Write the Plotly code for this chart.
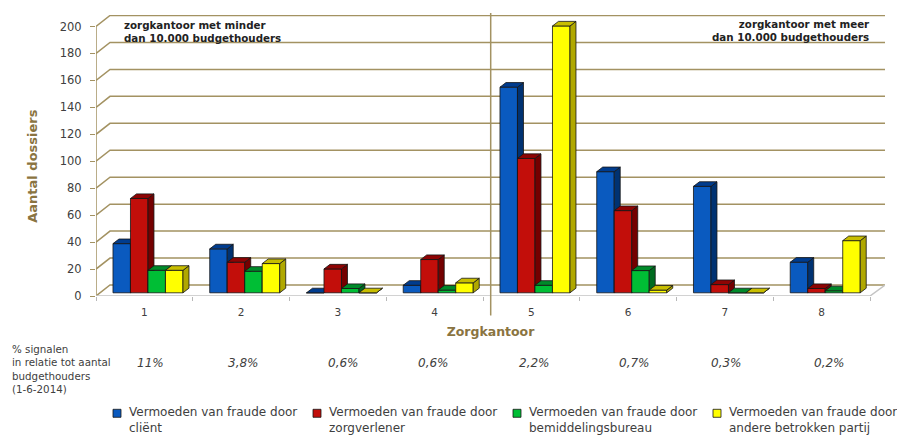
import plotly.graph_objects as go

categories = [1, 2, 3, 4, 5, 6, 7, 8]
client = [36.5, 32.6, 0, 5.6, 152.6, 89.9, 79, 22.7]
zorgverlener = [70, 22.7, 17.7, 24.7, 99.7, 61, 6.1, 3.2]
bemiddeling = [16.7, 16, 3.2, 2, 5.6, 16.5, 0, 1.5]
andere = [16.7, 21.7, 0, 7.4, 198, 2, 0, 38.7]
y_ticks = [0, 20, 40, 60, 80, 100, 120, 140, 160, 180, 200]
percent_labels = ["11%", "3,8%", "0,6%", "0,6%", "2,2%", "0,7%", "0,3%", "0,2%"]
percent_x_px = [150, 243, 343, 433, 534, 634, 726, 829]
series_names = [
    "Vermoeden van fraude door<br>cliënt",
    "Vermoeden van fraude door<br>zorgverlener",
    "Vermoeden van fraude door<br>bemiddelingsbureau",
    "Vermoeden van fraude door<br>andere betrokken partij",
]
series_values = [client, zorgverlener, bemiddeling, andere]
front_colors = ["#0A5ABF", "#C20E0A", "#00BE35", "#FFFF00"]
side_colors = ["#003272", "#740000", "#006B20", "#B0A800"]
top_colors = ["#003C8E", "#8E0404", "#008A2A", "#C8BE00"]
legend_x_px = [117, 317, 517, 717]

W, H = 897, 436
L, R, T, B = 96, 885, 15, 296.5
PX_X = 96.75            # pixels per category
PX_Y = 1.35             # pixels per unit
TAN = "#A39262"
TEXT = "#404040"
EDGE = "#151515"


def paper_x(px):
    return (px - L) / (R - L)


def paper_y(py):
    return (B - py) / (B - T)


x_range = [0.5, 0.5 + (R - L) / PX_X]
y_range = [0, (B - T) / PX_Y]
wall_dx, wall_dy = 14 / PX_X, 11 / PX_Y
bar_w = 17.5 / PX_X
bar_dx, bar_dy = 6 / PX_X, 4.6 / PX_Y
bar_base = 3.2 / PX_Y
group_start = -31.4 / PX_X

fig = go.Figure()

# back wall grid and floor, on the base axes beneath all bars
for v in y_ticks:
    fig.add_trace(go.Scatter(
        x=[0.5, 0.5 + wall_dx, x_range[1]],
        y=[v, v + wall_dy, v + wall_dy],
        mode="lines", line=dict(color=TAN, width=1.5),
        showlegend=False, hoverinfo="skip", cliponaxis=False))
fig.add_trace(go.Scatter(
    x=[0.5, 0.5], y=[0, 200], mode="lines", line=dict(color=TAN, width=1.5),
    showlegend=False, hoverinfo="skip", cliponaxis=False))
fig.add_trace(go.Scatter(
    x=[0.5, 8.5, x_range[1]], y=[0, 0, wall_dy], mode="lines",
    line=dict(color="#C4C4C4", width=1.5),
    showlegend=False, hoverinfo="skip", cliponaxis=False))

for i, (name, vals) in enumerate(zip(series_names, series_values)):
    xa, ya = f"x{i + 2}", f"y{i + 2}"
    off = group_start + i * bar_w
    fig.add_trace(go.Bar(
        x=categories, y=vals, base=bar_base, width=bar_w, offset=off, name=name,
        marker=dict(color=front_colors[i], line=dict(color=EDGE, width=0.8)),
        xaxis=xa, yaxis=ya, showlegend=False))
    sx, sy, tx, ty = [], [], [], []
    for c, v in zip(categories, vals):
        x0, x1 = c + off, c + off + bar_w
        y0, y1 = bar_base, bar_base + v
        sx += [x1, x1 + bar_dx, x1 + bar_dx, x1, x1, None]
        sy += [y0, y0 + bar_dy, y1 + bar_dy, y1, y0, None]
        tx += [x0, x0 + bar_dx, x1 + bar_dx, x1, x0, None]
        ty += [y1, y1 + bar_dy, y1 + bar_dy, y1, y1, None]
    for px_, py_, col in ((sx, sy, side_colors[i]), (tx, ty, top_colors[i])):
        fig.add_trace(go.Scatter(
            x=px_, y=py_, mode="lines", fill="toself", fillcolor=col,
            line=dict(color=EDGE, width=0.8), showlegend=False, hoverinfo="skip",
            xaxis=xa, yaxis=ya, cliponaxis=False))

annotations = [
    dict(text="zorgkantoor met minder<br>dan 10.000 budgethouders",
         x=paper_x(122), y=paper_y(17), xanchor="left", yanchor="top", align="left",
         font=dict(size=10.3, color="#222222", family="DejaVu Sans", weight="bold")),
    dict(text="zorgkantoor met meer<br>dan 10.000 budgethouders",
         x=paper_x(872), y=paper_y(16), xanchor="right", yanchor="top", align="right",
         font=dict(size=10.3, color="#222222", family="DejaVu Sans", weight="bold")),
    dict(text="Aantal dossiers", x=paper_x(33), y=paper_y(167), textangle=-90,
         xanchor="center", yanchor="middle",
         font=dict(size=13, color="#8A7441", family="DejaVu Sans", weight="bold")),
    dict(text="% signalen<br>in relatie tot aantal<br>budgethouders<br>(1-6-2014)",
         x=paper_x(10), y=paper_y(369.5), xanchor="left", yanchor="middle", align="left",
         font=dict(size=10.3, color=TEXT, family="DejaVu Sans")),
]
for lab, px in zip(percent_labels, percent_x_px):
    annotations.append(dict(
        text=f"<i>{lab}</i>", x=paper_x(px), y=paper_y(364),
        xanchor="center", yanchor="middle",
        font=dict(size=12, color=TEXT, family="DejaVu Sans")))
shapes = [dict(type="line", xref="paper", yref="paper",
               x0=paper_x(490.7), x1=paper_x(490.7), y0=paper_y(13), y1=paper_y(316),
               line=dict(color=TAN, width=1.5))]
# legend: swatch and two-line label per series
for name, col, px in zip(series_names, front_colors, legend_x_px):
    shapes.append(dict(type="rect", xref="paper", yref="paper",
                       x0=paper_x(px - 4), x1=paper_x(px + 4),
                       y0=paper_y(410), y1=paper_y(418),
                       fillcolor=col, line=dict(color=EDGE, width=0.8)))
    annotations.append(dict(text=name, x=paper_x(px + 10), y=paper_y(404),
                            xanchor="left", yanchor="top", align="left",
                            font=dict(size=12, color=TEXT, family="DejaVu Sans")))
for a in annotations:
    a.update(xref="paper", yref="paper", showarrow=False)

layout = dict(
    width=W, height=H, autosize=False, showlegend=False,
    margin=dict(l=L, r=W - R, t=T, b=H - B, pad=0, autoexpand=False),
    paper_bgcolor="white", plot_bgcolor="white",
    barmode="overlay",
    font=dict(family="DejaVu Sans", color=TEXT, size=12),
    xaxis=dict(
        range=x_range, tickmode="array", tickvals=categories,
        ticktext=[str(c) for c in categories], ticks="", showgrid=False, zeroline=False,
        ticklabelstandoff=8, tickfont=dict(size=10.5, color=TEXT),
        minor=dict(tickmode="array", tickvals=[c - 0.5 for c in categories] + [8.5],
                   ticks="outside", ticklen=4, tickcolor="#B8B8B8", showgrid=False),
        title=dict(text="Zorgkantoor", standoff=10,
                   font=dict(size=12.5, color="#8A7441", family="DejaVu Sans", weight="bold"))),
    yaxis=dict(
        range=y_range, tickmode="array", tickvals=y_ticks, ticks="outside", ticklen=5,
        tickcolor=TAN, showgrid=False, zeroline=False, ticklabelstandoff=6,
        tickfont=dict(size=11.5, color=TEXT)),
    annotations=annotations,
    shapes=shapes,
)
for i in range(2, 6):
    layout[f"xaxis{i}"] = dict(overlaying="x", range=x_range, visible=False)
    layout[f"yaxis{i}"] = dict(overlaying="y", range=y_range, visible=False)
fig.update_layout(**layout)

fig.write_html("out.html", config=dict(displayModeBar=False),
               post_script="document.body.style.margin='0';document.body.style.overflow='hidden';")
